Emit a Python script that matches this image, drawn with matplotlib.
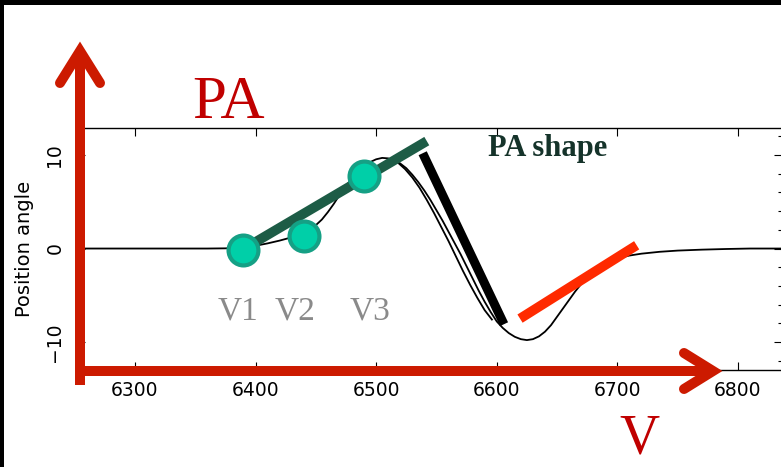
import matplotlib
matplotlib.use("Agg")
import matplotlib.pyplot as plt
from matplotlib.lines import Line2D
from matplotlib.patches import Rectangle
from matplotlib.ticker import FixedLocator, MultipleLocator

# ---- data ----
velocity = [6252, 6300, 6340, 6360, 6375, 6390, 6400, 6410, 6420, 6430, 6438, 6445,
            6450, 6455, 6460, 6465, 6470, 6475, 6480, 6485, 6490, 6495, 6500, 6505,
            6510, 6515, 6520, 6525, 6530, 6535, 6540, 6545, 6550, 6555, 6560, 6565,
            6570, 6575, 6580, 6585, 6590, 6595, 6600, 6605, 6610, 6615, 6620, 6625,
            6630, 6635, 6640, 6645, 6650, 6655, 6660, 6665, 6670, 6675, 6680, 6685,
            6690, 6695, 6700, 6710, 6720, 6735, 6750, 6770, 6790, 6810, 6840]
position_angle = [0.0, 0.0, 0.0, 0.0, 0.02, 0.12, 0.3, 0.55, 0.85, 1.2, 1.55, 2.0,
                  2.5, 3.1, 3.9, 4.8, 5.8, 6.7, 7.5, 8.2, 8.8, 9.25, 9.55, 9.7,
                  9.65, 9.45, 9.1, 8.6, 7.9, 7.1, 6.2, 5.2, 4.1, 3.0, 1.8, 0.6,
                  -0.6, -1.9, -3.2, -4.5, -5.7, -6.8, -7.8, -8.5, -9.05, -9.45, -9.7, -9.8,
                  -9.7, -9.4, -8.9, -8.2, -7.3, -6.4, -5.5, -4.6, -3.8, -3.1, -2.5, -2.0,
                  -1.6, -1.3, -1.05, -0.75, -0.55, -0.35, -0.22, -0.12, -0.05, 0.0, 0.0]
# second, slightly offset strand on the descending branch
velocity_b = [6512, 6518, 6524, 6530, 6536, 6542, 6548, 6554, 6560, 6566, 6572, 6578,
              6584, 6590, 6596]
position_angle_b = [9.6, 9.2, 8.5, 7.6, 6.5, 5.2, 3.8, 2.3, 0.8, -0.8, -2.4, -3.9,
                    -5.3, -6.6, -7.6]

point_velocity = [6390, 6440, 6490]
point_pa = [-0.2, 1.3, 7.8]
point_names = ["V1", "V2", "V3"]

green_velocity = [6389.5, 6542]
green_pa = [-0.1, 11.5]
black_velocity = [6538.6, 6606]
black_pa = [10.2, -8.1]
red_velocity = [6619.3, 6716]
red_pa = [-7.5, 0.35]

x_ticks = [6300, 6400, 6500, 6600, 6700, 6800]
y_ticks = [-10, 0, 10]

W, H = 781, 467


def fx(x):
    return x / W


def fy(y):
    return 1 - y / H


fig = plt.figure(figsize=(W / 100, H / 100), dpi=100)
fig.patch.set_facecolor("white")

ax = fig.add_axes([fx(77), fy(370), (782 - 77) / W, (370 - 128) / H])
ax.set_xlim(6252, 6836.5)
ax.set_ylim(-13.0, 12.9)

ax.plot(velocity, position_angle, color="black", lw=1.3, zorder=2)
ax.plot(velocity_b, position_angle_b, color="black", lw=1.3, zorder=2)

ax.plot(green_velocity, green_pa, color="#1d5c46", lw=7, solid_capstyle="butt", zorder=3)
ax.plot(black_velocity, black_pa, color="black", lw=6.5, solid_capstyle="butt", zorder=3)
ax.plot(red_velocity, red_pa, color="#ff2a00", lw=7, solid_capstyle="butt", zorder=3)
ax.plot(point_velocity, point_pa, "o", ms=21.5, mfc="#00cfa8", mec="#15a085", mew=3,
        ls="none", zorder=4)

for s in ax.spines.values():
    s.set_linewidth(1.0)

ax.xaxis.set_major_locator(FixedLocator(x_ticks))
ax.yaxis.set_major_locator(FixedLocator(y_ticks))
ax.yaxis.set_minor_locator(MultipleLocator(2))
ax.tick_params(which="both", direction="in", top=True, right=True, width=0.8)
ax.tick_params(which="major", length=6)
ax.tick_params(which="minor", length=3)
ax.tick_params(axis="x", labelsize=13.5, pad=8)
ax.tick_params(axis="y", labelsize=13.5, pad=9, labelrotation=90)
for lab in ax.get_yticklabels():
    lab.set_va("center")
ax.set_ylabel("Position angle", fontsize=14)
ax.yaxis.set_label_coords((34 - 77) / 705, 0.5)

# black frame strips of the slide
fig.patches.append(Rectangle((0, fy(5)), 1, 5 / H, transform=fig.transFigure,
                             facecolor="black", edgecolor="none", zorder=0))
fig.patches.append(Rectangle((0, 0), 4 / W, 1, transform=fig.transFigure,
                             facecolor="black", edgecolor="none", zorder=0))

# red axis arrows
arrow_red = "#cc1a00"
lw_arrow = 7.2


def line(xs, ys, cap="butt", join="miter"):
    ln = Line2D([fx(x) for x in xs], [fy(y) for y in ys], transform=fig.transFigure,
                color=arrow_red, lw=lw_arrow, solid_capstyle=cap, solid_joinstyle=join,
                zorder=10)
    fig.add_artist(ln)


line([80, 80], [385, 51])
line([60, 80, 100], [83, 51, 83], cap="round")
line([76, 713], [371, 371])
line([684, 713, 684], [353, 371, 389], cap="round")

# texts
serif = ["Liberation Serif", "DejaVu Serif"]
fig.text(fx(192), fy(118), "PA", family=serif, fontsize=44, color="#c00000",
         ha="left", va="baseline")
fig.text(fx(619), fy(454), "V", family=serif, fontsize=40, color="#c00000",
         ha="left", va="baseline")
fig.text(fx(488), fy(156), "PA shape", family=serif, fontsize=22, fontweight="bold",
         color="#15332a", ha="left", va="baseline")
for name, xp in zip(point_names, [218, 275, 350]):
    fig.text(fx(xp), fy(320), name, family=serif, fontsize=24, color="#8a8a8a",
             ha="left", va="baseline")

fig.savefig("out.png", dpi=100)
